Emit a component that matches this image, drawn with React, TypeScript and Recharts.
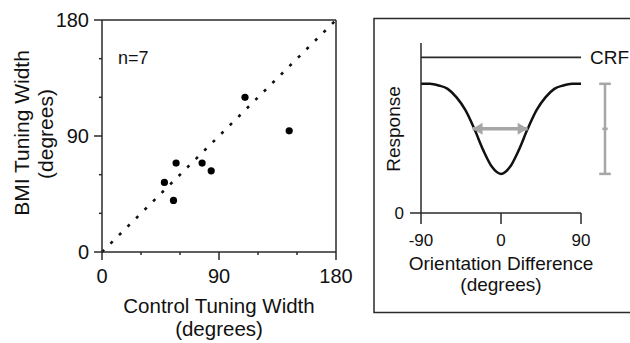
import React from 'react';
import {
  ScatterChart,
  Scatter,
  XAxis,
  YAxis,
  ReferenceLine,
  ComposedChart,
  Line,
} from 'recharts';

// ---------- Left panel data ----------
const controlWidth = [48, 55, 57, 77, 84, 110, 144];
const bmiWidth = [54, 40, 69, 69, 63, 120, 94];
const scatterTicks = [0, 30, 60, 90, 120, 150, 180];
const scatterMajor = [0, 90, 180];
const scatterDomain = [0, 180];

// ---------- Right panel data ----------
const orientation = [-90, -80, -70, -60, -50, -40, -30, -20, -10, 0, 10, 20, 30, 40, 50, 60, 70, 80, 90];
const response = [76, 76, 75, 73, 68, 60.5, 49.5, 37, 27, 23, 27, 37, 49.5, 60.5, 68, 73, 75, 76, 76];
const orientationTicks = [-90, 0, 90];
const responseTicks = [0];
const responseDomain = [0, 100];
const crfLevel = 91.5;
const arrowEnds = [-32, 30];
const halfLevel = 49.5;
const modX = 117;
const modLow = 23;
const modMid = 49.5;
const modHigh = 76;

const FONT = "'Liberation Sans', Arial, Helvetica, sans-serif";
const AX = '#2a2a2a';
const GRAY = '#a6a6a6';

const scatterData = controlWidth.map((x, i) => ({ x, y: bmiWidth[i] }));
const curveData = orientation.map((x, i) => ({ x, y: response[i] }));
const arrowData = arrowEnds.map((x, i) => ({ x, y: halfLevel, side: i === 0 ? -1 : 1 }));

const LXTick = (p: any) => {
  const { x, y, payload } = p;
  const major = scatterMajor.includes(payload.value);
  return (
    <g>
      <line x1={x} y1={y} x2={x} y2={y + (major ? 8 : 3)} stroke={AX} strokeWidth={1.5} />
      {major && (
        <text x={x} y={y + 31} textAnchor="middle" fontSize={20} fontFamily={FONT} fill="#111">
          {payload.value}
        </text>
      )}
    </g>
  );
};

const LYTick = (p: any) => {
  const { x, y, payload } = p;
  const major = scatterMajor.includes(payload.value);
  return (
    <g>
      <line x1={x} y1={y} x2={x - (major ? 8 : 3)} y2={y} stroke={AX} strokeWidth={1.5} />
      {major && (
        <text x={x - 13} y={y + 7} textAnchor="end" fontSize={20} fontFamily={FONT} fill="#111">
          {payload.value}
        </text>
      )}
    </g>
  );
};

const RXTick = (p: any) => {
  const { x, y, payload } = p;
  return (
    <g>
      <line x1={x} y1={y} x2={x} y2={y + 11} stroke={AX} strokeWidth={1.5} />
      <text x={x} y={y + 33} textAnchor="middle" fontSize={17} fontFamily={FONT} fill="#111">
        {payload.value}
      </text>
    </g>
  );
};

const RYTick = (p: any) => {
  const { x, y, payload } = p;
  return (
    <g>
      <line x1={x} y1={y} x2={x - 11} y2={y} stroke={AX} strokeWidth={1.5} />
      <text x={x - 17} y={y + 6} textAnchor="end" fontSize={17} fontFamily={FONT} fill="#111">
        {payload.value}
      </text>
    </g>
  );
};

const Dot = (p: any) => <circle cx={p.cx} cy={p.cy} r={3.6} fill="#000" />;

const ArrowHead = (p: any) => {
  const { cx, cy, payload } = p;
  const s = payload.side;
  const pts = `${cx},${cy} ${cx - s * 10},${cy - 6} ${cx - s * 10},${cy + 6}`;
  return <polygon points={pts} fill={GRAY} />;
};

export default function App() {
  return (
    <div
      style={{
        position: 'fixed',
        left: 0,
        top: 0,
        width: 630,
        height: 343,
        background: '#fff',
        overflow: 'hidden',
      }}
    >
      <div style={{ position: 'absolute', left: 0, top: 0 }}>
        <ScatterChart width={360} height={343} margin={{ top: 20, right: 24, bottom: 0, left: 0 }}>
          <XAxis
            type="number"
            dataKey="x"
            domain={scatterDomain}
            ticks={scatterTicks}
            interval={0}
            height={91}
            tickSize={0}
            tickMargin={0}
            tickLine={false}
            tick={(p: any) => <LXTick {...p} />}
            axisLine={{ stroke: AX, strokeWidth: 1.5 }}
          />
          <YAxis
            type="number"
            dataKey="y"
            domain={scatterDomain}
            ticks={scatterTicks}
            interval={0}
            width={102}
            tickSize={0}
            tickMargin={0}
            tickLine={false}
            tick={(p: any) => <LYTick {...p} />}
            axisLine={{ stroke: AX, strokeWidth: 1.5 }}
          />
          <ReferenceLine y={180} stroke={AX} strokeWidth={1.5} />
          <ReferenceLine x={180} stroke={AX} strokeWidth={1.5} />
          <ReferenceLine
            segment={[
              { x: 0, y: 0 },
              { x: 180, y: 180 },
            ]}
            stroke="#111"
            strokeWidth={2.6}
            strokeDasharray="3 9"
          />
          <Scatter data={scatterData} isAnimationActive={false} shape={(p: any) => <Dot {...p} />} />
        </ScatterChart>
      </div>

      <div style={{ position: 'absolute', left: 374, top: 18 }}>
        <ComposedChart width={256} height={295} margin={{ top: 25, right: 49, bottom: 0, left: 0 }}>
          <XAxis
            type="number"
            dataKey="x"
            domain={[-90, 90]}
            ticks={orientationTicks}
            interval={0}
            height={100}
            tickSize={0}
            tickMargin={0}
            tickLine={false}
            tick={(p: any) => <RXTick {...p} />}
            axisLine={{ stroke: AX, strokeWidth: 1.5 }}
            allowDataOverflow
          />
          <YAxis
            type="number"
            dataKey="y"
            domain={responseDomain}
            ticks={responseTicks}
            interval={0}
            width={47}
            tickSize={0}
            tickMargin={0}
            tickLine={false}
            tick={(p: any) => <RYTick {...p} />}
            axisLine={{ stroke: AX, strokeWidth: 1.5 }}
          />
          <ReferenceLine
            segment={[
              { x: -90, y: crfLevel },
              { x: 90, y: crfLevel },
            ]}
            stroke={AX}
            strokeWidth={1.8}
          />
          <ReferenceLine
            segment={[
              { x: modX, y: modLow },
              { x: modX, y: modHigh },
            ]}
            stroke={GRAY}
            strokeWidth={2.5}
            ifOverflow="visible"
          />
          <ReferenceLine
            segment={[
              { x: modX - 6.5, y: modHigh },
              { x: modX + 6.5, y: modHigh },
            ]}
            stroke={GRAY}
            strokeWidth={2.5}
            ifOverflow="visible"
          />
          <ReferenceLine
            segment={[
              { x: modX - 6.5, y: modLow },
              { x: modX + 6.5, y: modLow },
            ]}
            stroke={GRAY}
            strokeWidth={2.5}
            ifOverflow="visible"
          />
          <ReferenceLine
            segment={[
              { x: modX - 3, y: modMid },
              { x: modX + 3, y: modMid },
            ]}
            stroke={GRAY}
            strokeWidth={2.5}
            ifOverflow="visible"
          />
          <Scatter
            data={arrowData}
            dataKey="y"
            isAnimationActive={false}
            line={{ stroke: GRAY, strokeWidth: 3.5 }}
            shape={(p: any) => <ArrowHead {...p} />}
          />
          <Line
            data={curveData}
            dataKey="y"
            type="monotone"
            stroke="#111"
            strokeWidth={2.5}
            dot={false}
            activeDot={false}
            isAnimationActive={false}
          />
        </ComposedChart>
      </div>

      <svg
        width={630}
        height={343}
        style={{ position: 'absolute', left: 0, top: 0, pointerEvents: 'none' }}
        fontFamily={FONT}
        fill="#111"
      >
        <rect x={374} y={18.5} width={300} height={294} fill="none" stroke={AX} strokeWidth={1.5} />
        <text x={118} y={63.5} fontSize={18}>n=7</text>
        <text x={219} y={313} fontSize={20.5} textAnchor="middle">Control Tuning Width</text>
        <text x={219} y={336} fontSize={20.5} textAnchor="middle">(degrees)</text>
        <text x={29} y={133} fontSize={21} textAnchor="middle" transform="rotate(-90 29 133)">
          BMI Tuning Width
        </text>
        <text x={53} y={134} fontSize={21} textAnchor="middle" transform="rotate(-90 53 134)">
          (degrees)
        </text>
        <text x={590} y={63.5} fontSize={19}>CRF</text>
        <text x={501} y={270} fontSize={19} textAnchor="middle">Orientation Difference</text>
        <text x={501} y={291} fontSize={19} textAnchor="middle">(degrees)</text>
        <text x={400} y={129} fontSize={19} textAnchor="middle" transform="rotate(-90 400 129)">
          Response
        </text>
      </svg>
    </div>
  );
}
